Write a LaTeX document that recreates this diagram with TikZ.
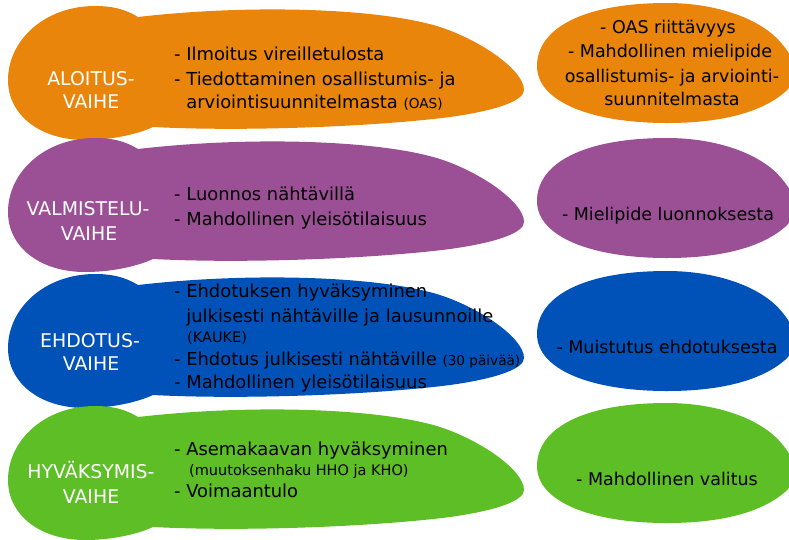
\documentclass[tikz,border=0pt]{standalone}
\usepackage{fontspec}
\setmainfont{DejaVu Sans}
\definecolor{corange}{HTML}{E8850A}
\definecolor{cpurple}{HTML}{9B4F94}
\definecolor{cblue}{HTML}{0052B8}
\definecolor{cgreen}{HTML}{5DBE26}
\tikzset{
  ltxt/.style={anchor=base west, inner sep=0pt, text=black, font=\fontsize{17.9}{20}\selectfont},
  stxt/.style={anchor=base west, inner sep=0pt, text=black, font=\fontsize{14.5}{16}\selectfont},
  rtxt/.style={anchor=base, inner sep=0pt, text=black, font=\fontsize{17.5}{20}\selectfont},
  lbl/.style={anchor=base, inner sep=0pt, text=white, font=\fontsize{18.9}{20}\selectfont},
}
\newcommand\smalltext[1]{{\fontsize{13.6}{16}\selectfont #1}}
\begin{document}
\begin{tikzpicture}[x=1pt,y=-1pt]
\useasboundingbox (0,0) rectangle (789,539);
\clip (0,0) rectangle (789,539);
% left blobs (lobe + elongated body)
\foreach \off/\col in {0/corange,132/cpurple,268/cblue,400/cgreen}{
  \fill[\col, shift={(0,\off)}] (138,17) .. controls (125,9) and (112,6) .. (95,6)
    .. controls (45,6) and (8,40) .. (8,80)
    .. controls (8,115) and (40,140) .. (85,140)
    .. controls (115,140) and (140,133) .. (153,127)
    .. controls (250,132) and (380,126) .. (450,117)
    .. controls (500,110) and (524,100) .. (524,90)
    .. controls (524,70) and (480,40) .. (440,27)
    .. controls (380,8) and (250,4) .. (138,17) -- cycle;
}
% right blobs
\foreach \mid/\col in {64/corange,199/cpurple,332/cblue,464/cgreen}{
  \fill[\col, shift={(537,\mid)}] (0,2) .. controls (0,-35) and (45,-61) .. (130,-61)
    .. controls (180,-61) and (225,-45) .. (245,-20)
    .. controls (262,0) and (262,15) .. (248,28)
    .. controls (225,48) and (185,59) .. (130,59)
    .. controls (55,59) and (0,38) .. (0,2) -- cycle;
}
% labels
\node[lbl] (l1a) at (91,85) {ALOITUS-};
\node[lbl] (l1b) at (91,108) {VAIHE};
\node[lbl] (l2a) at (88,215) {VALMISTELU-};
\node[lbl] (l2b) at (89,240) {VAIHE};
\node[lbl] (l3a) at (90,347) {EHDOTUS-};
\node[lbl] (l3b) at (91,370) {VAIHE};
\node[lbl] (l4a) at (91,478) {HYVÄKSYMIS-};
\node[lbl] (l4b) at (91,503) {VAIHE};
% left texts
\node[ltxt] (t11) at (174,60) {- Ilmoitus vireilletulosta};
\node[ltxt] (t12) at (174,85) {- Tiedottaminen osallistumis- ja};
\node[ltxt] (t13) at (174,108) {\hphantom{- }arviointisuunnitelmasta \smalltext{(OAS)}};
\node[ltxt] (t21) at (174,200) {- Luonnos nähtävillä};
\node[ltxt] (t22) at (174,225) {- Mahdollinen yleisötilaisuus};
\node[ltxt] (t31) at (174,297) {- Ehdotuksen hyväksyminen};
\node[ltxt] (t32) at (174,322) {\hphantom{- }julkisesti nähtäville ja lausunnoille};
\node[stxt] (t33) at (187,342) {(KAUKE)};
\node[ltxt] (t34) at (174,365) {- Ehdotus julkisesti nähtäville \smalltext{(30 päivää)}};
\node[ltxt] (t35) at (174,388) {- Mahdollinen yleisötilaisuus};
\node[ltxt] (t41) at (174,455) {- Asemakaavan hyväksyminen};
\node[stxt] (t42) at (189,475) {(muutoksenhaku HHO ja KHO)};
\node[ltxt] (t43) at (174,497) {- Voimaantulo};
% right texts
\node[rtxt] (r11) at (668,33) {- OAS riittävyys};
\node[rtxt] (r12) at (670,57) {- Mahdollinen mielipide};
\node[rtxt] (r13) at (672,82) {osallistumis- ja arviointi-};
\node[rtxt] (r14) at (672,105) {suunnitelmasta};
\node[rtxt] (r2) at (668,220) {- Mielipide luonnoksesta};
\node[rtxt] (r3) at (667,353) {- Muistutus ehdotuksesta};
\node[rtxt] (r4) at (667,485) {- Mahdollinen valitus};
\end{tikzpicture}
\end{document}
